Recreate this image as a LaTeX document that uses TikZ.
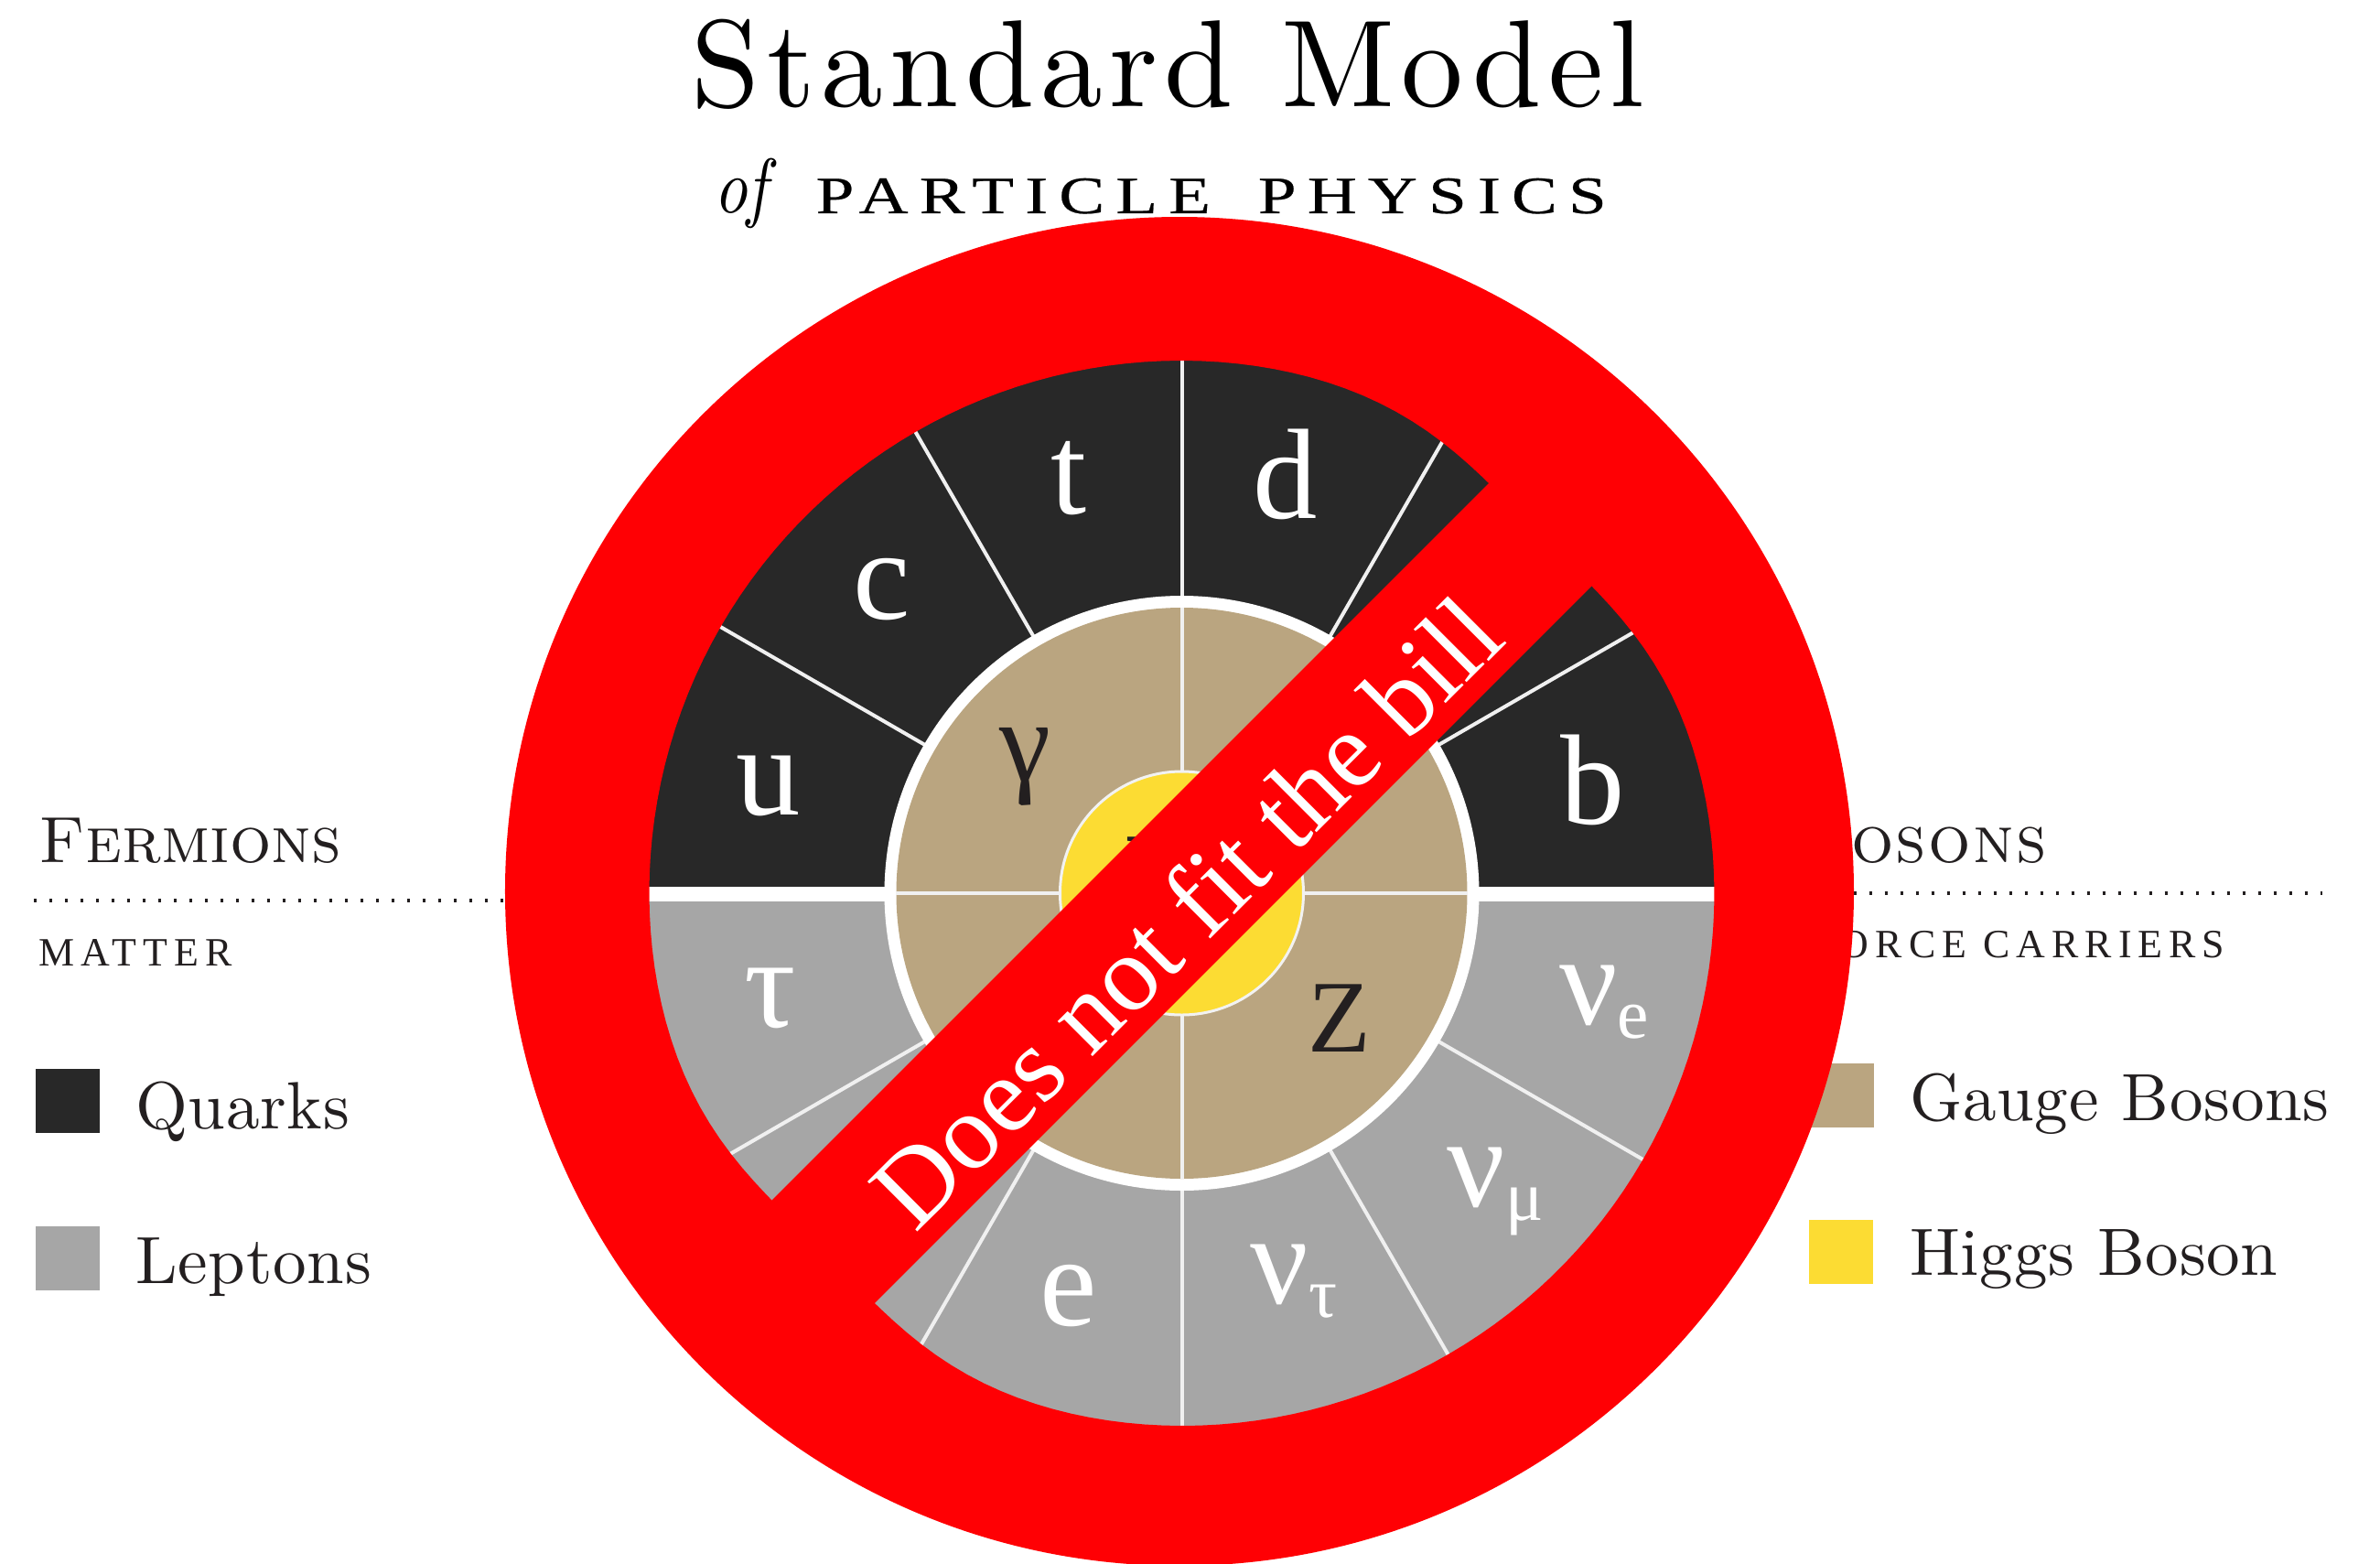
\documentclass[tikz,border=0pt]{standalone}
\usepackage{fontspec}
\usepackage{tikz}
\usetikzlibrary{positioning,arrows.meta,calc}
\newfontfamily\lmfont[Extension=.otf, ItalicFont=lmroman10-italic, SmallCapsFont=lmromancaps10-regular]{lmroman10-regular}
\newfontfamily\capsfont{Liberation Serif}
\newfontfamily\wheelfont{Liberation Serif}
\definecolor{SignRed}{RGB}{255,0,4}
\definecolor{QuarkDark}{RGB}{40,40,40}
\definecolor{LeptonGray}{RGB}{166,166,166}
\definecolor{GaugeTan}{RGB}{186,165,128}
\definecolor{HiggsYellow}{RGB}{252,220,51}
\definecolor{InkText}{RGB}{35,31,32}
\newcommand{\fsz}[1]{\fontsize{#1}{#1}\selectfont}
\newcommand{\nusub}[1]{ν\raisebox{-4.3pt}{\fsz{22}#1}}

\begin{document}
\begin{tikzpicture}[
    keybox/.style={rectangle, minimum size=0.70cm, inner sep=0pt},
    keytext/.style={anchor=base west, inner sep=0pt, text=InkText, font=\lmfont\fsz{20.8}\addfontfeature{LetterSpace=1}},
    subheading/.style={inner sep=0pt, text=InkText, font=\capsfont\fsz{12.5}\addfontfeature{LetterSpace=16}},
    wheelmark/.style={inner sep=0pt, font=\wheelfont\fsz{40}},
    spoke/.style={white!88!gray, line width=0.04cm},
    dotline/.style={InkText, line width=0.035cm, dash pattern=on 0.035cm off 0.135cm},
]
\clip (-12.915,-7.32) rectangle (13.095,9.76);

% title
\node[anchor=base west, inner sep=0pt, text=black, font=\lmfont\fsz{38.5}\addfontfeature{LetterSpace=5.3}] (maintitle) at (-5.365,8.59) {Standard Model};
\node[anchor=base west, inner sep=0pt, text=black, font=\lmfont\itshape\fsz{24}\addfontfeature{FakeStretch=0.85}] (ofword) at (-5.12,7.43) {of};
\node[anchor=base west, inner sep=0pt, text=black, font=\capsfont\fsz{16.4}\addfontfeature{FakeStretch=1.3,LetterSpace=21,FakeBold=0.4}] (subtitle) at (-4.005,7.43) {PARTICLE\hspace{6pt} PHYSICS};

% left side
\node[anchor=base west, inner sep=0pt, text=InkText, font=\lmfont\scshape\fsz{20.3}] (fermions) at (-12.495,0.34) {Fermions};
\node[subheading, anchor=base west] (matter) at (-12.495,-0.79) {MATTER};
\coordinate (leftstart) at (-12.545,-0.08);
\coordinate (leftend) at (-7.385,-0.08);
\draw[dotline] (leftstart) -- (leftend);
\node[keybox, fill=QuarkDark] (quarkkey) at (-12.175,-2.27) {};
\node[keybox, fill=LeptonGray] (leptonkey) at (-12.175,-3.99) {};
\node[keytext] (quarktext) at (-11.44,-2.57) {Quarks};
\node[keytext] (leptontext) at (-11.44,-4.26) {Leptons};

% right side
\node[anchor=base east, inner sep=0pt, text=InkText, font=\lmfont\scshape\fsz{20.8}\addfontfeature{LetterSpace=3}] (bosons) at (9.46,0.335) {Bosons};
\node[subheading, anchor=base east] (carriers) at (11.405,-0.70) {FORCE CARRIERS};
\coordinate (rightstart) at (7.0,0);
\coordinate (rightend) at (12.46,0);
\draw[dotline] (rightstart) -- (rightend);
\node[keybox, fill=GaugeTan] (gaugekey) at (7.21,-2.205) {};
\node[keybox, fill=HiggsYellow] (higgskey) at (7.205,-3.92) {};
\node[keytext] (gaugetext) at (7.95,-2.48) {Gauge Bosons};
\node[keytext] (higgstext) at (7.95,-4.17) {Higgs Boson};

% wheel
\fill[QuarkDark] (-5.85,0) arc[start angle=180, end angle=0, radius=5.85] -- cycle;
\fill[LeptonGray] (-5.85,0) arc[start angle=180, end angle=360, radius=5.85] -- cycle;
\foreach \a in {30,60,90,120,150,210,240,270,300,330} {
    \draw[spoke] (\a:3.2) -- (\a:5.85);
}
\draw[white, line width=0.155cm] (-5.9,-0.01) -- (-3.2,-0.01);
\draw[white, line width=0.155cm] (3.2,-0.01) -- (5.9,-0.01);
\fill[white] (0,0) circle (3.25);
\fill[GaugeTan] (0,0) circle (3.12);
\foreach \a in {0,90,180,270} {
    \draw[spoke] (\a:1.33) -- (\a:3.12);
}
\filldraw[fill=HiggsYellow, draw=white!90!gray, line width=0.03cm] (0,0) circle (1.33);

\foreach \x/\y/\t/\n in {-4.515/1.17/u/markup, -3.275/3.32/c/markcharm, -1.235/4.535/t/marktop, 1.13/4.58/d/markdown, 4.49/1.24/b/markbottom, -4.5/-1.145/τ/marktau, -1.24/-4.405/e/markel} {
    \node[wheelmark, text=white] (\n) at (\x,\y) {\t};
}
\node[wheelmark, text=white] (marknutau) at (1.225,-4.24) {\nusub{τ}};
\node[wheelmark, text=white] (marknumu) at (3.43,-3.26) {\nusub{μ}};
\node[wheelmark, text=white] (marknuel) at (4.615,-1.19) {\nusub{e}};
\node[inner sep=0pt, text=InkText, font=\wheelfont\fsz{36}] (markgamma) at (-1.71,1.38) {γ};
\node[inner sep=0pt, text=InkText, font=\wheelfont\fsz{32}] (markz) at (1.72,-1.37) {Z};
\node[inner sep=0pt, text=InkText, font=\wheelfont\fsz{49}] (markh) at (-0.02,0.05) {H};

% prohibition sign, its hole dips in along the bar
\fill[SignRed, even odd rule] (-0.025,0.02) circle (7.37)
    plot[domain=0:360, samples=181] (\x:{5.82-0.28*exp(-((mod(\x+45,180)-90)/17)^2)});
\node[rectangle, fill=SignRed, rotate=45, minimum width=13cm, minimum height=1.59cm, inner sep=0pt] (banner) at (-0.01,-0.01) {};
\node[rotate=45, inner sep=0pt, text=white, font=\wheelfont\fsz{33.5}] (slogan) at (0.04,-0.20) {Does not fit the bill};
\end{tikzpicture}
\end{document}
